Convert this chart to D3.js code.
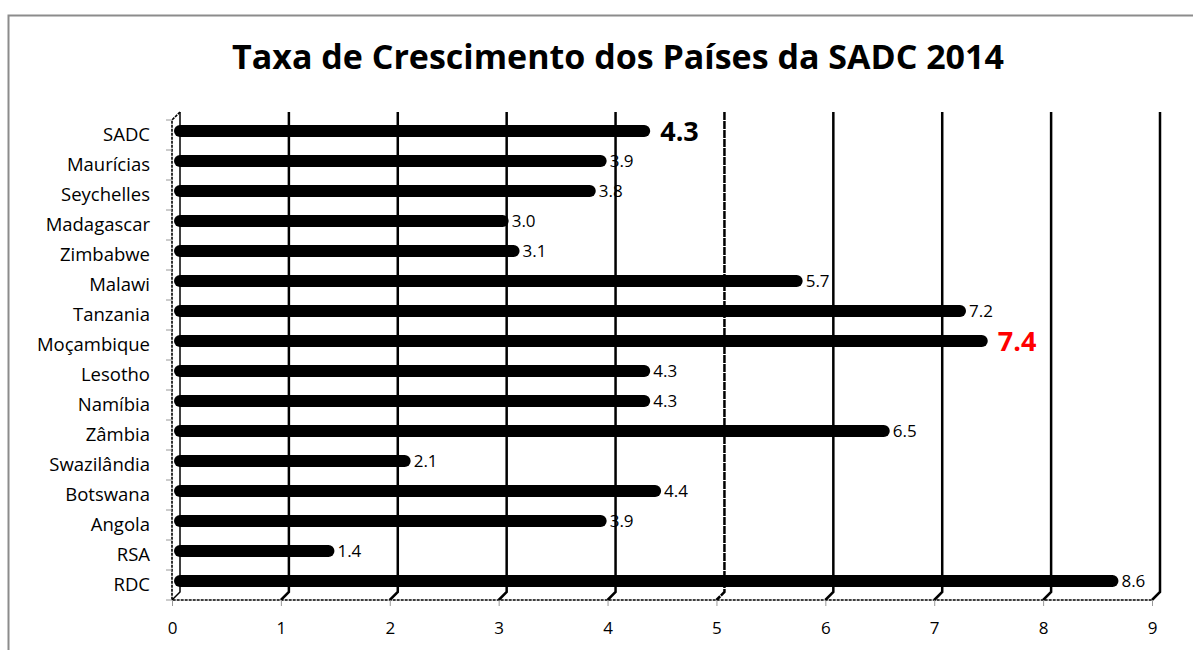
<!DOCTYPE html>
<html>
<head>
<meta charset="utf-8">
<script src="https://cdn.jsdelivr.net/npm/d3@7"></script>
<style>
  body { margin: 0; background: #fff; }
  svg { display: block; font-family: 'Open Sans', sans-serif; }
</style>
</head>
<body>
<div id="chart"></div>
<script>
// Data, top to bottom as shown
const countries = ['SADC', 'Maurícias', 'Seychelles', 'Madagascar', 'Zimbabwe', 'Malawi', 'Tanzania',
  'Moçambique', 'Lesotho', 'Namíbia', 'Zâmbia', 'Swazilândia', 'Botswana', 'Angola', 'RSA', 'RDC'];
const growth = [4.3, 3.9, 3.8, 3.0, 3.1, 5.7, 7.2, 7.4, 4.3, 4.3, 6.5, 2.1, 4.4, 3.9, 1.4, 8.6];
const xTicks = [0, 1, 2, 3, 4, 5, 6, 7, 8, 9];
const title = 'Taxa de Crescimento dos Países da SADC 2014';

const width = 1193, height = 650;
const depth = { dx: 8, dy: 8 };   // 3D wall offset
const plot = { left: 172, right: 1152, top: 120, bottom: 600 };
const font = "'Open Sans', sans-serif";

const svg = d3.select('#chart').append('svg')
  .attr('width', width)
  .attr('height', height);

// Outer chart border (only left and top visible)
svg.append('path')
  .attr('d', 'M8.5,' + height + 'V15.5H' + width)
  .attr('fill', 'none')
  .attr('stroke', '#8c8c8c')
  .attr('stroke-width', 2);

svg.append('text')
  .attr('x', 618)
  .attr('y', 69)
  .attr('text-anchor', 'middle')
  .attr('font-size', 34)
  .attr('font-weight', 'bold')
  .text(title);

const x = d3.scaleLinear().domain([0, 9]).range([plot.left, plot.right]);
const y = d3.scaleBand().domain(countries).range([plot.top, plot.bottom]);

// Back wall gridlines with diagonal to floor
const grid = svg.append('g');
xTicks.forEach(t => {
  const xb = x(t) + depth.dx;
  grid.append('path')
    .attr('d', 'M' + xb + ',' + (plot.top - depth.dy) + 'V' + (plot.bottom - depth.dy) +
      'L' + x(t) + ',' + plot.bottom)
    .attr('fill', 'none')
    .attr('stroke', '#000')
    .attr('stroke-width', t === 0 ? 1.5 : 2.5)
    .attr('stroke-dasharray', t === 5 ? '8 1' : null);
});

// Left wall and floor edges (dashed)
svg.append('path')
  .attr('d', 'M' + (plot.left + depth.dx) + ',' + (plot.top - depth.dy) +
    'L' + plot.left + ',' + plot.top + 'V' + plot.bottom + 'H' + plot.right +
    'L' + (plot.right + depth.dx) + ',' + (plot.bottom - depth.dy))
  .attr('fill', 'none')
  .attr('stroke', '#000')
  .attr('stroke-width', 1.6)
  .attr('stroke-dasharray', '3 1');

// Axes
const xAxis = svg.append('g')
  .attr('transform', 'translate(0,' + plot.bottom + ')')
  .call(d3.axisBottom(x).tickValues(xTicks).tickSize(6).tickPadding(16).tickFormat(d3.format('d')));
xAxis.select('.domain').remove();
xAxis.selectAll('line').attr('stroke', '#999');
xAxis.selectAll('text').attr('font-size', 17).attr('fill', '#000').style('font-family', font);

const yAxis = svg.append('g')
  .attr('transform', 'translate(' + plot.left + ',0)')
  .call(d3.axisLeft(y).tickSize(0).tickPadding(22));
yAxis.select('.domain').remove();
yAxis.selectAll('text').attr('font-size', 18.5).attr('fill', '#000').style('font-family', font);

// Y tick marks at band boundaries
svg.append('g').selectAll('line')
  .data(d3.range(countries.length + 1))
  .join('line')
  .attr('x1', plot.left - 6)
  .attr('x2', plot.left)
  .attr('y1', i => plot.top + i * y.step())
  .attr('y2', i => plot.top + i * y.step())
  .attr('stroke', '#999')
  .attr('stroke-width', 1);

// Bars (cylinder-like, rounded ends)
const barY = d => y(d) + y.bandwidth() / 2 - depth.dy / 2;
svg.append('g').selectAll('line')
  .data(countries)
  .join('line')
  .attr('x1', x(0) + depth.dx)
  .attr('x2', (d, i) => x(growth[i]) + depth.dx - 4)
  .attr('y1', barY)
  .attr('y2', barY)
  .attr('stroke', '#000')
  .attr('stroke-width', 12)
  .attr('stroke-linecap', 'round');

// Value labels
const big = d => d === 'SADC' || d === 'Moçambique';
svg.append('g').selectAll('text')
  .data(countries)
  .join('text')
  .attr('x', (d, i) => x(growth[i]) + depth.dx + (big(d) ? 12 : 5))
  .attr('y', barY)
  .attr('dy', '0.36em')
  .attr('font-size', d => big(d) ? 27 : 17)
  .attr('font-weight', d => big(d) ? 'bold' : null)
  .attr('fill', d => d === 'Moçambique' ? '#ff0000' : '#000')
  .text((d, i) => growth[i].toFixed(1));
</script>
</body>
</html>
